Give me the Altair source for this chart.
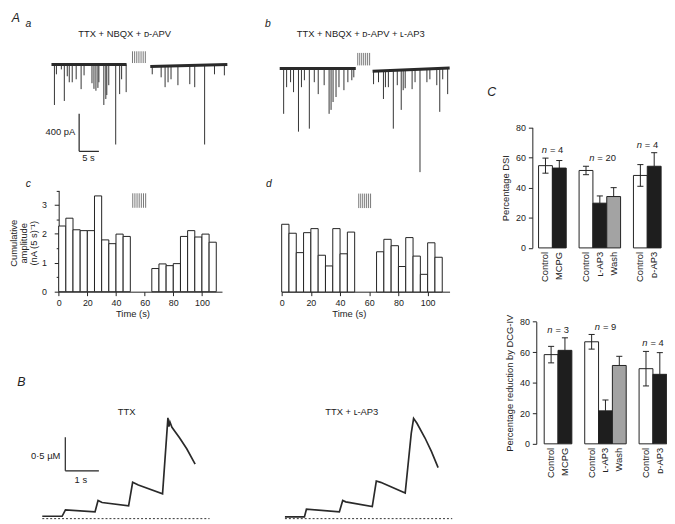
import altair as alt
import pandas as pd
import numpy as np

# ======================= DATA =======================
# --- A a : spontaneous IPSCs, TTX + NBQX + D-APV (time s, amplitude pA)
a_segments = [[0, 19], [25, 44.5]]
a_baseline = [[0, 0], [-22, 0]]
a_event_t = [0.75, 1.25, 2.5, 3.25, 4.0, 4.5, 5.25, 6.25, 7.5, 8.25, 10.25, 10.75, 11.25,
             11.75, 12.0, 13.25, 13.75, 14.0, 14.5, 16.25, 17.25, 17.75, 18.9,
             25.5, 27.75, 28.75, 29.5, 30.25, 32.0, 35.0, 36.25, 38.75, 41.25, 43.75]
a_event_amp = [-432, -105, -53, -389, -126, -190, -190, -158, -263, -116, -200, -260, -280,
               -250, -190, -432, -368, -326, -221, -853, -316, -158, -295,
               -105, -137, -242, -190, -158, -221, -210, -242, -853, -105, -116]
a_stim = [20.5, 23.75]

# --- A b : TTX + NBQX + D-APV + L-AP3
b_segments = [[0, 19.25], [23.5, 43]]
b_baseline = [[0, 0], [-30, 5]]
b_event_t = [1.0, 1.75, 2.75, 3.5, 4.75, 5.5, 6.25, 7.5, 8.75, 9.75, 11.25, 12.5, 13.0, 13.5,
             14.25, 15.0, 16.25, 17.25, 18.25, 18.75,
             23.75, 25.0, 26.25, 26.75, 27.5, 28.75, 29.75, 30.75, 31.25, 31.75, 33.5, 34.25,
             35.5, 37.25, 38.0, 39.75, 40.5, 41.25, 42.5]
b_event_amp = [-484, -200, -147, -253, -674, -200, -126, -642, -147, -274, -179, -484, -442, -358,
               -305, -200, -232, -147, -126, -95,
               -168, -147, -326, -200, -200, -642, -179, -442, -232, -211, -221, -147,
               -1105, -147, -116, -179, -463, -116, -274]
b_stim = [19.75, 22.75]

# --- A c / d : cumulative amplitude per 5 s bin (nA (5 s)^-1)
bin_width = 5
post_start = 65
c_pre = [2.27, 2.54, 2.14, 2.11, 2.11, 3.31, 1.79, 1.66, 1.99, 1.91]
c_post = [0.80, 0.96, 0.90, 0.97, 1.91, 2.11, 1.89, 1.99, 1.71]
d_pre = [2.34, 2.03, 1.36, 2.05, 2.19, 1.27, 0.90, 2.19, 1.32, 2.07]
d_post = [1.39, 1.82, 1.60, 0.88, 1.88, 1.24, 0.61, 1.70, 1.20]
c_stim = [51.7, 60.7]
d_stim = [52.8, 60.9]
time_ticks = [0, 20, 40, 60, 80, 100]
amp_ticks = [0, 0.5, 1, 1.5, 2, 2.5, 3, 3.5]
amp_title = ["Cumulative", "amplitude", "(nA (5 s)⁻¹)"]

# --- B : [Ca2+] transients (time s, concentration uM)
ca_ttx_t = [0, 0.59, 0.69, 1.57, 1.66, 1.78, 2.57, 2.69, 2.86, 3.58, 3.74, 3.77, 3.80, 3.86, 4.09, 4.30, 4.55]
ca_ttx_c = [0.035, 0.035, 0.13, 0.10, 0.27, 0.24, 0.19, 0.54, 0.50, 0.37, 1.50, 1.37, 1.44, 1.36, 1.20, 1.04, 0.81]
ca_ap3_t = [0, 0.58, 0.64, 1.62, 1.72, 1.81, 2.60, 2.72, 2.85, 3.58, 3.76, 3.83, 3.93, 4.17, 4.36, 4.56]
ca_ap3_c = [0.025, 0.025, 0.14, 0.10, 0.27, 0.25, 0.18, 0.56, 0.54, 0.38, 1.27, 1.49, 1.42, 1.20, 1.00, 0.76]
ca_end = 4.98

# --- C : bar charts (mean, s.e.m.)
c_groups = [["Control", "MCPG"], ["Control", "ʟ-AP3", "Wash"], ["Control", "ᴅ-AP3"]]
dsi_mean = [54.6, 53.0, 51.4, 29.7, 34.1, 48.1, 54.2]
dsi_sem = [5.0, 5.0, 2.8, 4.8, 5.9, 7.2, 9.0]
dsi_n = [4, 20, 4]
dcg_mean = [58.4, 61.2, 66.8, 21.6, 51.3, 49.2, 45.5]
dcg_sem = [5.4, 8.2, 4.8, 7.1, 6.0, 11.3, 14.2]
dcg_n = [3, 9, 4]
pct_ticks = [0, 20, 40, 60, 80]

# ======================= LAYOUT / STYLE =======================
M = 8
W, H = 667, 516
FONT = "Liberation Sans"
INK = "#222222"
GAP = 0.93


def sc(d0, d1, p0, p1):
    """linear scale: domain value d0 -> page pixel p0, d1 -> p1"""
    return alt.Scale(domain=[d0, d1], range=[p0 - M, p1 - M], nice=False, zero=False)


AX = dict(domainColor=INK, tickColor=INK, labelColor=INK, labelFont=FONT, labelFontSize=9,
          titleFont=FONT, titleFontSize=9.5, titleFontWeight="normal", titleColor=INK,
          grid=False, domainWidth=1, tickWidth=1, labelFlush=False)

layers = []


# ---------- A a / b traces ----------
def trace(seg, base, ev_t, ev_amp, stim, stim_amp, xs, ys):
    bl = pd.DataFrame([dict(seg=i, t=t, amp=b) for i, (ss, bb) in enumerate(zip(seg, base))
                       for t, b in zip(ss, bb)])

    def base_at(t):
        for ss, bb in zip(seg, base):
            if ss[0] <= t <= ss[1]:
                return float(np.interp(t, ss, bb))
        return 0.0

    ev = pd.DataFrame(dict(t=ev_t, amp=ev_amp))
    ev["base"] = [base_at(t) for t in ev_t]
    st = pd.DataFrame(dict(t=np.linspace(stim[0], stim[1], 7)))
    st["lo"], st["hi"] = stim_amp
    X = lambda f: alt.X(f, scale=xs, axis=None)
    Y = lambda f: alt.Y(f, scale=ys, axis=None)
    return [
        alt.Chart(ev).mark_rule(color="#333333", strokeWidth=1).encode(x=X("t:Q"), y=Y("amp:Q"), y2="base:Q"),
        alt.Chart(bl).mark_line(color="#2a2a2a", strokeWidth=3).encode(x=X("t:Q"), y=Y("amp:Q"), detail="seg:N"),
        alt.Chart(st).mark_rule(color="#777777", strokeWidth=1).encode(x=X("t:Q"), y=Y("lo:Q"), y2="hi:Q"),
    ]


XA, YA = sc(0, 46, 52, 236), sc(-1200, 200, 176, 43)
XB, YB = sc(0, 46, 283, 467), sc(-1200, 200, 180, 47)
layers += trace(a_segments, a_baseline, a_event_t, a_event_amp, a_stim, (15, 140), XA, YA)
layers += trace(b_segments, b_baseline, b_event_t, b_event_amp, b_stim, (32, 165), XB, YB)

# scale bar A (5 s, 400 pA)
sbA = pd.DataFrame(dict(x=[7, 7], x2=[7, 12], y=[-926, -926], y2=[-526, -926]))
layers.append(alt.Chart(sbA).mark_rule(color=INK, strokeWidth=1.2).encode(
    x=alt.X("x:Q", scale=XA, axis=None), x2="x2:Q", y=alt.Y("y:Q", scale=YA, axis=None), y2="y2:Q"))


# ---------- A c / d histograms ----------
def hist(pre, post, stim, xs, ys, xaxis, yaxis):
    starts = [bin_width * i for i in range(len(pre))] + [post_start + bin_width * i for i in range(len(post))]
    df = pd.DataFrame(dict(x0=starts, val=pre + post))
    df["x1"] = df.x0 + bin_width
    df["zero"] = 0
    st = pd.DataFrame(dict(t=np.linspace(stim[0], stim[1], 7)))
    st["lo"], st["hi"] = 2.9, 3.4
    return [
        alt.Chart(df).mark_rect(fill="white", stroke=INK, strokeWidth=1).encode(
            x=alt.X("x0:Q", scale=xs, axis=xaxis), x2="x1:Q",
            y=alt.Y("zero:Q", scale=ys, axis=yaxis), y2="val:Q"),
        alt.Chart(st).mark_rule(color="#777777", strokeWidth=1).encode(
            x=alt.X("t:Q", scale=xs, axis=None), y=alt.Y("lo:Q", scale=ys, axis=None), y2="hi:Q"),
    ]


def time_axis(title_x):
    return alt.Axis(orient="bottom", offset=(292 - M) - H, values=time_ticks, tickSize=4,
                    labelPadding=3, title="Time (s)", titleX=title_x - M, titleY=17,
                    titleAlign="center", titleBaseline="top", **AX)


c_yaxis = alt.Axis(orient="left", offset=-(59.3 - M), values=amp_ticks,
                   labelExpr="datum.value % 1 === 0 ? format(datum.value, 'd') : ''",
                   tickSize={"condition": {"test": "datum.value % 1 !== 0", "value": 2.5}, "value": 4.5},
                   labelPadding=8, title=None, **AX)

layers += hist(c_pre, c_post, c_stim, sc(0, 114, 59.3, 224.6), sc(0, 3.5, 292, 189.5), time_axis(134), c_yaxis)
layers += hist(d_pre, d_post, d_stim, sc(0, 115, 285, 454.9), sc(0, 3.5, 292.3, 189.8), time_axis(353), None)


# ---------- B [Ca] traces ----------
def ca(t, c, xs, ys):
    X = lambda f: alt.X(f, scale=xs, axis=None)
    Y = lambda f: alt.Y(f, scale=ys, axis=None)
    return [
        alt.Chart(pd.DataFrame(dict(t=[0, ca_end], c=[0, 0]))).mark_line(
            color="#333333", strokeWidth=1, strokeDash=[2, 2]).encode(x=X("t:Q"), y=Y("c:Q")),
        alt.Chart(pd.DataFrame(dict(t=t, c=c))).mark_line(color="#2a2a2a", strokeWidth=1.7).encode(
            x=X("t:Q"), y=Y("c:Q")),
    ]


XCa1, XCa2, YCa = sc(0, 5.3, 42.7, 222.9), sc(0, 5.3, 288.3, 468.5), sc(0, 1.7, 521.7, 406.1)
layers += ca(ca_ttx_t, ca_ttx_c, XCa1, YCa)
layers += ca(ca_ap3_t, ca_ap3_c, XCa2, YCa)
sbB = pd.DataFrame(dict(x=[0.685, 0.685], x2=[0.685, 1.685], y=[0.712, 0.712], y2=[1.212, 0.712]))
layers.append(alt.Chart(sbB).mark_rule(color=INK, strokeWidth=1.2).encode(
    x=alt.X("x:Q", scale=XCa1, axis=None), x2="x2:Q", y=alt.Y("y:Q", scale=YCa, axis=None), y2="y2:Q"))


# ---------- C bar charts ----------
def bars(mean, sem, ns, xs, ys, yaxis):
    rows, i = [], 0
    for g, labels in enumerate(c_groups):
        for lab in labels:
            pos = i + g * GAP
            kind = "control" if lab == "Control" else ("wash" if lab == "Wash" else "drug")
            m, s = mean[i], sem[i]
            rows.append(dict(label=lab, kind=kind, g=g, x0=pos, x1=pos + 1, xc=pos + 0.5, mean=m,
                             hi=m + s, lo=(m - s if kind == "control" else m), zero=0))
            i += 1
    df = pd.DataFrame(rows)
    caps = pd.concat([df[["xc", "hi"]].rename(columns={"hi": "y"}),
                      df[df.kind == "control"][["xc", "lo"]].rename(columns={"lo": "y"})])
    caps["c0"], caps["c1"] = caps.xc - 0.22, caps.xc + 0.22
    nd = df.groupby("g").agg(x0=("x0", "min"), x1=("x1", "max"), y=("hi", "max")).reset_index()
    nd["xc"] = (nd.x0 + nd.x1) / 2
    nd["eq"] = ["= %d" % n for n in ns]
    nd["n"] = "n"
    X = lambda f: alt.X(f, scale=xs, axis=None)
    Y = lambda f, ax=None: alt.Y(f, scale=ys, axis=ax)
    return [
        alt.Chart(df).mark_rect(stroke=INK, strokeWidth=1).encode(
            x=X("x0:Q"), x2="x1:Q", y=Y("zero:Q", yaxis), y2="mean:Q",
            fill=alt.Fill("kind:N", scale=alt.Scale(domain=["control", "drug", "wash"],
                                                    range=["white", "#1e1e1e", "#a3a3a3"]), legend=None)),
        alt.Chart(df).mark_rule(color=INK, strokeWidth=1).encode(x=X("xc:Q"), y=Y("lo:Q"), y2="hi:Q"),
        alt.Chart(caps).mark_rule(color=INK, strokeWidth=1).encode(x=X("c0:Q"), x2="c1:Q", y=Y("y:Q")),
        alt.Chart(df).mark_text(angle=270, align="right", baseline="middle", dx=-4, fontSize=9.5,
                                color=INK).encode(x=X("xc:Q"), y=Y("zero:Q"), text="label:N"),
        alt.Chart(nd).mark_text(align="right", baseline="alphabetic", dx=-5.5, dy=-5, fontSize=9.5,
                                fontStyle="italic", color=INK).encode(x=X("xc:Q"), y=Y("y:Q"), text="n:N"),
        alt.Chart(nd).mark_text(align="left", baseline="alphabetic", dx=-2.5, dy=-5, fontSize=9.5,
                                color=INK).encode(x=X("xc:Q"), y=Y("y:Q"), text="eq:N"),
    ]


top_axis = alt.Axis(orient="left", offset=-(538.7 - M), values=pct_ticks, tickSize=4, labelPadding=3,
                    title="Percentage DSI", titlePadding=5, **AX)
bot_axis = alt.Axis(orient="left", offset=-(542.7 - M), values=pct_ticks, tickSize=4, labelPadding=3,
                    title="Percentage reduction by DCG-IV", titlePadding=5, **AX)
layers += bars(dsi_mean, dsi_sem, dsi_n, sc(0, 9, 545, 671), sc(0, 80, 247.7, 125.7), top_axis)
layers += bars(dcg_mean, dcg_sem, dcg_n, sc(0, 9, 550.7, 676.7), sc(0, 80, 446, 322.3), bot_axis)

# ---------- annotations (page pixel positions) ----------
def notes(items, **style):
    df = pd.DataFrame(items, columns=["text", "x", "y"])
    df["x"] -= M
    df["y"] -= M
    return alt.Chart(df).mark_text(color=INK, **style).encode(
        x=alt.X("x:Q", scale=None), y=alt.Y("y:Q", scale=None), text="text:N")


layers.append(notes([("A", 16, 15), ("B", 21.5, 383), ("C", 497.5, 90)],
                    fontSize=12.5, fontStyle="italic", align="center", baseline="middle"))
layers.append(notes([("a", 28.5, 21), ("b", 271, 21), ("c", 28.5, 183), ("d", 272, 183)],
                    fontSize=10.5, fontStyle="italic", align="center", baseline="middle"))
layers.append(notes([("TTX + NBQX + ᴅ-APV", 126, 31.5), ("TTX + NBQX + ᴅ-APV + ʟ-AP3", 365, 31.5),
                     ("TTX", 128, 414), ("TTX + ʟ-AP3", 356, 414), ("5 s", 89.5, 157), ("1 s", 81.7, 483)],
                    fontSize=9.5, align="center", baseline="middle"))
layers.append(notes([("400 pA", 76, 130), ("0·5 µM", 61, 458.3)],
                    fontSize=9.5, align="right", baseline="middle"))
layers.append(notes(list(zip(amp_title, [14, 24, 34], [243, 243, 243])),
                    fontSize=9.5, angle=270, align="center", baseline="middle"))

chart = (
    alt.layer(*layers)
    .resolve_scale(x="independent", y="independent")
    .properties(width=W, height=H, autosize=alt.AutoSizeParams(type="none"), padding=0)
    .configure_view(stroke=None)
    .configure_text(font=FONT)
)
chart.save("out.html", embed_options={"renderer": "svg", "actions": False})
